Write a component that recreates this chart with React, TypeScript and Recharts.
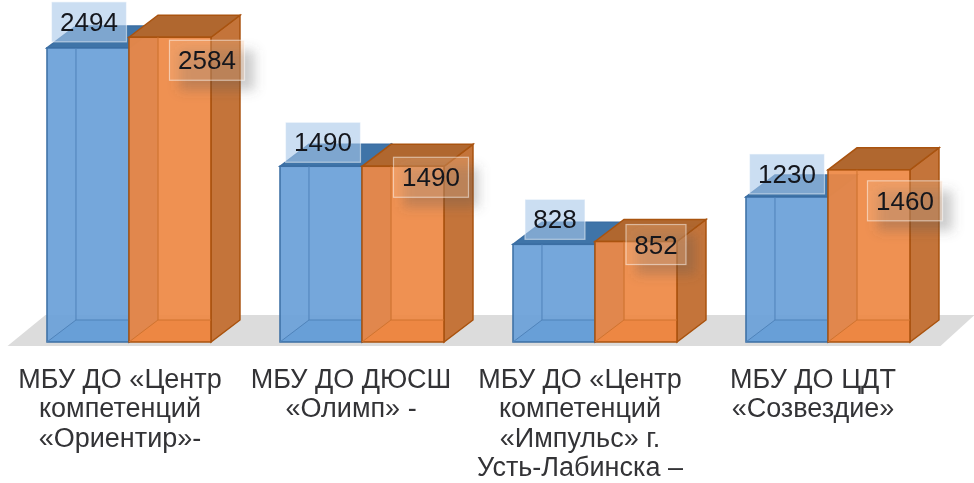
import React from "react";
import { BarChart, Bar, XAxis, YAxis, LabelList, Customized, usePlotArea } from "recharts";

const categories = [
  "МБУ ДО «Центр|компетенций|«Ориентир»-",
  "МБУ ДО ДЮСШ|«Олимп» -",
  "МБУ ДО «Центр|компетенций|«Импульс» г.|Усть-Лабинска –",
  "МБУ ДО ЦДТ|«Созвездие»",
];
const blueValues = [2494, 1490, 828, 1230];
const orangeValues = [2584, 1490, 852, 1460];

const chartData = categories.map((name, i) => ({
  name,
  blue: blueValues[i],
  orange: orangeValues[i],
}));

const DEPTH_X = 29;
const DEPTH_Y = 22;

// the labels in the picture are placed by hand, so these are offsets from the bar's top left
const blueLabelOffsets = [[42, -26], [43, -24], [42, -25], [41, -23]];
const orangeLabelOffsets = [[78, 23], [69, 11], [61, 3], [77, 31]];
const tickOffsets = [-9, -11, -15, -15];

const palettes = {
  blue: { front: "#699fd8", top: "#3f74a8", side: "#4a80b8", floor: "#5f94cb", edge: "#3b6ea3", inner: "#4f83ba" },
  orange: { front: "#ee8843", top: "#b0672f", side: "#c4743a", floor: "#e5853f", edge: "#a9530f", inner: "#d0732f" },
};

const Box3D = (props: any) => {
  const { x, y, width, height, tone } = props;
  const c = palettes[tone as "blue" | "orange"];
  const b = y + height;
  const bx = x + DEPTH_X;
  const r = x + width;
  return (
    <g>
      <polygon points={`${x},${b} ${bx},${b - DEPTH_Y} ${r + DEPTH_X},${b - DEPTH_Y} ${r},${b}`} fill={c.floor} />
      <polygon points={`${r},${y} ${r + DEPTH_X},${y - DEPTH_Y} ${r + DEPTH_X},${b - DEPTH_Y} ${r},${b}`} fill={c.side} stroke={c.edge} strokeWidth={1.5} />
      <polygon points={`${x},${y} ${bx},${y - DEPTH_Y} ${r + DEPTH_X},${y - DEPTH_Y} ${r},${y}`} fill={c.top} stroke={c.edge} strokeWidth={1.5} />
      <rect x={x} y={y} width={width} height={height} fill={c.front} fillOpacity={0.92} stroke={c.edge} strokeWidth={1.5} />
      <path d={`M${bx},${y} V${b - DEPTH_Y} H${r} M${bx},${b - DEPTH_Y} L${x},${b}`} fill="none" stroke={c.inner} strokeWidth={1} />
    </g>
  );
};

const ValueLabel = (props: any) => {
  const { x, y, index, value, offsets, boxFill, boxOpacity, shadow } = props;
  const cx = x + offsets[index][0];
  const cy = y + offsets[index][1];
  const w = String(value).length > 3 ? 75 : 60;
  const h = 40;
  return (
    <g>
      {shadow && (
        <rect x={cx - w / 2 + 10} y={cy - h / 2 + 10} width={w} height={h} fill="#555" fillOpacity={0.3} filter="url(#labelShadow)" />
      )}
      <rect x={cx - w / 2} y={cy - h / 2} width={w} height={h} fill={boxFill} fillOpacity={boxOpacity} stroke="#fff" strokeOpacity={0.5} strokeWidth={1.2} />
      <text x={cx} y={cy + 9} textAnchor="middle" fontSize={26} fontFamily="Liberation Sans, Arial, sans-serif" fill="#14161c">
        {value}
      </text>
    </g>
  );
};

const CategoryTick = (props: any) => {
  const { x, y, payload, index } = props;
  return (
    <text textAnchor="middle" fontSize={27} fontFamily="Liberation Sans, Arial, sans-serif" fill="#333336">
      {String(payload.value).split("|").map((line, i) => (
        <tspan key={i} x={x + tickOffsets[index]} y={y + 38 + i * 29.3}>
          {line}
        </tspan>
      ))}
    </text>
  );
};

const Floor = () => {
  const plot = usePlotArea();
  if (!plot) return null;
  const b = plot.y + plot.height;
  const l = plot.x;
  const r = plot.x + plot.width;
  return (
    <g>
      <defs>
        <filter id="labelShadow" x="-30%" y="-50%" width="160%" height="200%">
          <feGaussianBlur stdDeviation="6" />
        </filter>
      </defs>
      <polygon points={`${l - 5},${b + 4} ${l + 33},${b - 27} ${r + 30},${b - 27} ${r - 4},${b + 4}`} fill="#dcdcdc" />
    </g>
  );
};

export default function App() {
  return (
    <div style={{ position: "absolute", left: 0, top: 0, width: 974, height: 483, background: "#fff", filter: "blur(0.7px)" }}>
      <BarChart
        width={974}
        height={483}
        data={chartData}
        margin={{ top: 0, right: 29.5, bottom: 0, left: 12.5 }}
        barCategoryGap="14.8%"
        barGap={0}
      >
        <Customized component={Floor} />
        <XAxis dataKey="name" height={141} axisLine={false} tickLine={false} interval={0} tick={<CategoryTick />} />
        <YAxis hide domain={[0, 2900]} />
        <Bar dataKey="blue" isAnimationActive={false} shape={<Box3D tone="blue" />}>
          <LabelList dataKey="blue" content={<ValueLabel offsets={blueLabelOffsets} boxFill="#a9c8ea" boxOpacity={0.6} />} />
        </Bar>
        <Bar dataKey="orange" isAnimationActive={false} shape={<Box3D tone="orange" />}>
          <LabelList dataKey="orange" content={<ValueLabel offsets={orangeLabelOffsets} boxFill="#f5b98c" boxOpacity={0.3} shadow />} />
        </Bar>
      </BarChart>
    </div>
  );
}
